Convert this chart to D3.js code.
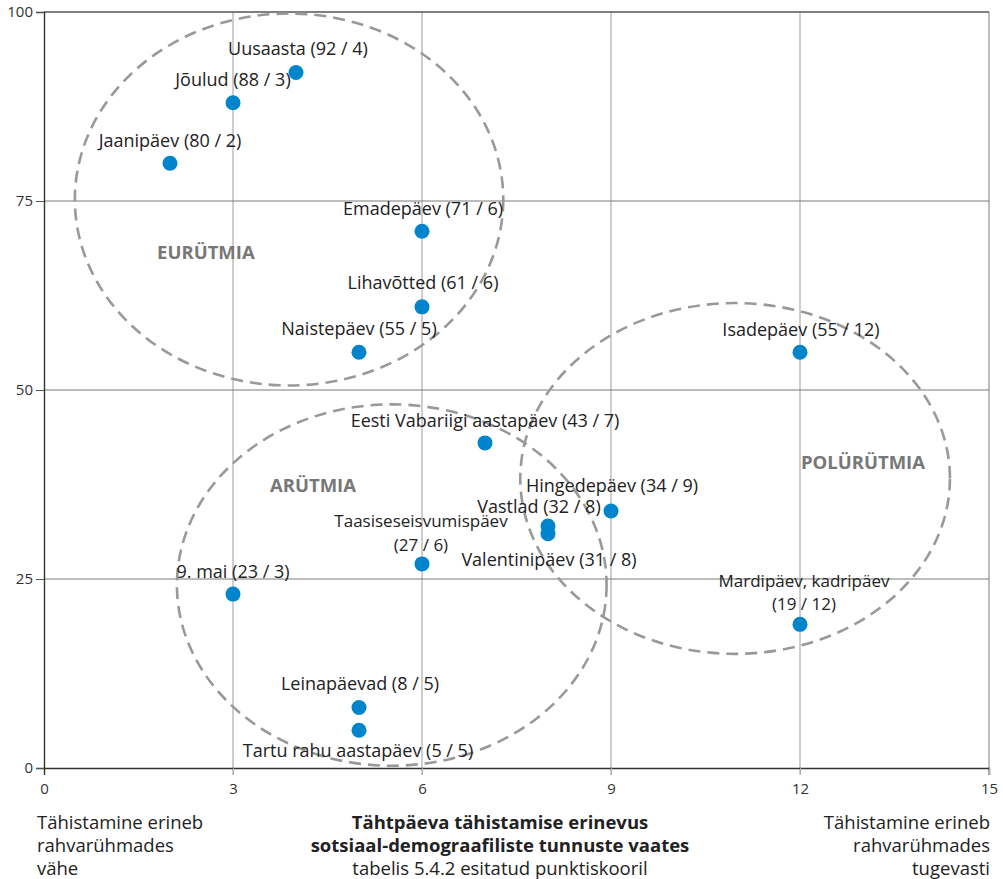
<!DOCTYPE html>
<html>
<head>
<meta charset="utf-8">
<style>
  body { margin: 0; background: #fff; }
  svg text { font-family: "Open Sans", "DejaVu Sans", sans-serif; }
</style>
<script src="https://d3js.org/d3.v7.min.js"></script>
</head>
<body>
<svg width="1003" height="879"></svg>
<script>
// holidays: name, share celebrating (y) and difference score (x)
var names = ["Uusaasta", "Jõulud", "Jaanipäev", "Emadepäev", "Lihavõtted", "Naistepäev",
  "Isadepäev", "Eesti Vabariigi aastapäev", "Hingedepäev", "Vastlad", "Valentinipäev",
  "Taasiseseisvumispäev", "9. mai", "Mardipäev, kadripäev", "Leinapäevad", "Tartu rahu aastapäev"];
var yVals = [92, 88, 80, 71, 61, 55, 55, 43, 34, 32, 31, 27, 23, 19, 8, 5];
var xVals = [4, 3, 2, 6, 6, 5, 12, 7, 9, 8, 8, 6, 3, 12, 5, 5];

// groups drawn as ellipses (centre and radii in data units)
var groupNames = ["EURÜTMIA", "ARÜTMIA", "POLÜRÜTMIA"];
var groupCx = [3.89, 5.52, 10.97];
var groupCy = [75.2, 24.2, 38.3];
var groupRx = [3.4, 3.41, 3.41];
var groupRy = [24.6, 23.9, 23.2];
var groupLabelX = [2.57, 4.27, 13.0];
var groupLabelY = [67.3, 36.5, 39.5];

var xTicks = [0, 3, 6, 9, 12, 15];
var yTicks = [0, 25, 50, 75, 100];

// label placement relative to the dot (px): dx, dy of last line baseline
var labelDx = [2, 0, 0, 1, 1, 0, 1, 0, 1, -9, 1, -1, 0, 4, 1, -1];
var labelDy = [-17, -17, -16, -16, -18, -17, -16, -16, -19, -13, 32, -13, -16, -14, -18, 27];

var svg = d3.select("svg");
var margin = {top: 12, right: 14, bottom: 111, left: 44};
var W = +svg.attr("width"), H = +svg.attr("height");

var x = d3.scaleLinear().domain([0, 15]).range([margin.left, W - margin.right]);
var y = d3.scaleLinear().domain([0, 100]).range([H - margin.bottom, margin.top]);

// grid
svg.append("g").selectAll("line")
  .data(xTicks.slice(1))
  .enter().append("line")
    .attr("x1", function(d) { return x(d); }).attr("x2", function(d) { return x(d); })
    .attr("y1", y(100)).attr("y2", y(0) + 7)
    .attr("stroke", "#adadad")
    .attr("stroke-width", function(d) { return d == 15 ? 1.6 : 1.2; });

svg.append("g").selectAll("line")
  .data(yTicks.slice(1))
  .enter().append("line")
    .attr("x1", x(0)).attr("x2", x(15))
    .attr("y1", function(d) { return y(d); }).attr("y2", function(d) { return y(d); })
    .attr("stroke", function(d) { return d == 100 ? "#555" : "#7a7a7a"; })
    .attr("stroke-width", function(d) { return d == 100 ? 1.4 : 1; });

// axes
var xAxis = svg.append("g")
  .attr("transform", "translate(0," + y(0) + ")")
  .call(d3.axisBottom(x).tickValues(xTicks).tickSize(7).tickPadding(8));
var yAxis = svg.append("g")
  .attr("transform", "translate(" + x(0) + ",0)")
  .call(d3.axisLeft(y).tickValues(yTicks).tickSize(8).tickPadding(3));
[xAxis, yAxis].forEach(function(a) {
  a.select(".domain").attr("stroke", "#333").attr("stroke-width", 1.4);
  a.selectAll(".tick line").attr("stroke", "#555");
  a.selectAll(".tick text").attr("font-size", 15).attr("fill", "#333")
    .style("font-family", "'Open Sans', sans-serif");
});
xAxis.selectAll(".tick line").attr("stroke", function(d) { return d == 0 ? "#333" : "#adadad"; });

// ellipses
svg.append("g").selectAll("ellipse")
  .data(groupNames)
  .enter().append("ellipse")
    .attr("cx", function(d, i) { return x(groupCx[i]); })
    .attr("cy", function(d, i) { return y(groupCy[i]); })
    .attr("rx", function(d, i) { return x(groupRx[i]) - x(0); })
    .attr("ry", function(d, i) { return y(0) - y(groupRy[i]); })
    .attr("fill", "none")
    .attr("stroke", "#999")
    .attr("stroke-width", 2.6)
    .attr("stroke-dasharray", "12,7");

svg.append("g").selectAll("text")
  .data(groupNames)
  .enter().append("text")
    .attr("x", function(d, i) { return x(groupLabelX[i]); })
    .attr("y", function(d, i) { return y(groupLabelY[i]); })
    .attr("text-anchor", "middle")
    .attr("font-size", 18.5)
    .attr("font-weight", "bold")
    .attr("fill", "#777")
    .text(function(d) { return d; });

// dots
svg.append("g").selectAll("circle")
  .data(names)
  .enter().append("circle")
    .attr("cx", function(d, i) { return x(xVals[i]); })
    .attr("cy", function(d, i) { return y(yVals[i]); })
    .attr("r", 7.5)
    .attr("fill", "#0085cc");

// dot labels (two-line ones get a separate text for the first line)
var lbl = svg.append("g");
names.forEach(function(d, i) {
  var px = x(xVals[i]) + labelDx[i], py = y(yVals[i]) + labelDy[i];
  var nums = "(" + yVals[i] + " / " + xVals[i] + ")";
  var twoLine = (d == "Taasiseseisvumispäev" || d == "Mardipäev, kadripäev");
  var lines = twoLine ? [d, nums] : [d + " " + nums];
  lines.forEach(function(l, j) {
    lbl.append("text")
      .attr("x", px)
      .attr("y", py - (lines.length - 1 - j) * 23.5)
      .attr("text-anchor", "middle")
      .attr("font-size", twoLine ? 17 : 18)
      .attr("fill", "#222")
      .text(l);
  });
});

// axis captions
function caption(lines, xpos, anchor, bold) {
  var t = svg.append("text")
    .attr("x", xpos).attr("y", 829)
    .attr("text-anchor", anchor)
    .attr("font-size", 18.5)
    .attr("fill", "#222");
  lines.forEach(function(l, i) {
    t.append("tspan").attr("x", xpos).attr("dy", i == 0 ? 0 : 23)
      .attr("font-weight", bold && bold[i] ? "bold" : "normal")
      .text(l);
  });
}
caption(["Tähistamine erineb", "rahvarühmades", "vähe"], 37, "start");
caption(["Tähtpäeva tähistamise erinevus", "sotsiaal-demograafiliste tunnuste vaates",
  "tabelis 5.4.2 esitatud punktiskooril"], 500, "middle", [true, true, false]);
caption(["Tähistamine erineb", "rahvarühmades", "tugevasti"], 990, "end");
</script>
</body>
</html>
